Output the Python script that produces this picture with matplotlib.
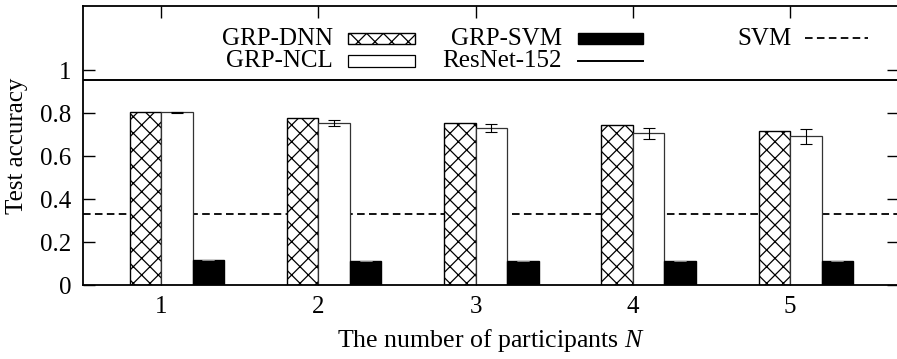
import matplotlib
matplotlib.use("Agg")
import matplotlib.pyplot as plt
import numpy as np
from matplotlib.patches import Rectangle
from matplotlib.lines import Line2D

plt.rcParams['font.family'] = ['Liberation Serif', 'DejaVu Serif']
plt.rcParams['mathtext.fontset'] = 'custom'
plt.rcParams['mathtext.it'] = 'Liberation Serif:italic'
plt.rcParams['mathtext.rm'] = 'Liberation Serif'
plt.rcParams['hatch.linewidth'] = 0.9

participants = [1, 2, 3, 4, 5]
grp_dnn = [0.805, 0.777, 0.753, 0.744, 0.716]
grp_ncl = [0.805, 0.755, 0.733, 0.707, 0.693]
grp_ncl_err = [0.002, 0.012, 0.018, 0.025, 0.034]
grp_svm = [0.117, 0.114, 0.113, 0.113, 0.113]
grp_svm_err = [0.001, 0.001, 0.001, 0.001, 0.001]
resnet152 = 0.953
svm = 0.332
yticks = [0, 0.2, 0.4, 0.6, 0.8, 1]
ytick_labels = ['0', '0.2', '0.4', '0.6', '0.8', '1']

W, H = 897, 359
fig = plt.figure(figsize=(W / 100, H / 100), dpi=100)
ax = fig.add_axes([82.5 / W, (H - 285.3) / H, (899 - 82.5) / W, 279.5 / H])

x = np.array(participants, dtype=float)
bw = 0.2
ax.bar(x - 0.1, grp_dnn, bw, facecolor='white', edgecolor='black', hatch='xx', linewidth=1.0, zorder=2)
ax.bar(x + 0.1, grp_ncl, bw, facecolor='white', edgecolor='#333333', linewidth=0.9, zorder=2)
ax.errorbar(x + 0.1, grp_ncl, yerr=grp_ncl_err, fmt='none', ecolor='black', elinewidth=0.8, capsize=4.3, capthick=0.8, zorder=3)
ax.bar(x + 0.3, grp_svm, bw, facecolor='black', edgecolor='black', linewidth=1.0, zorder=2)
ax.errorbar(x + 0.3, grp_svm, yerr=grp_svm_err, fmt='none', ecolor='#888888', elinewidth=0.6, capsize=4.3, capthick=0.6, zorder=3)
ax.axhline(resnet152, color='black', linewidth=1.4, zorder=1)
ax.axhline(svm, color='black', linewidth=1.3, linestyle=(0, (4.2, 2.4)), zorder=1)

ax.set_xlim(0.5, 0.5 + (899 - 82.5) / 157.25)
ax.set_ylim(0, 1.3)
ax.set_xticks(participants)
ax.set_xticklabels([str(p) for p in participants])
ax.set_yticks(yticks)
ax.set_yticklabels(ytick_labels)
ax.tick_params(direction='in', length=8.7, width=1.0, top=True, right=True, labelsize=18, pad=8, colors='black')
for s in ax.spines.values():
    s.set_linewidth(1.3)
ax.set_xlabel('The number of participants $N$', fontsize=18.6, labelpad=6)
ax.set_ylabel('Test accuracy', fontsize=18)
ax.yaxis.set_label_coords(-54.5 / 816.5, 0.5)

def P(px, py):
    return (px / W, 1 - py / H)

fs = 18
# legend (gnuplot style, label right-aligned to the left of the sample)
fig.text(*P(333, 45), 'GRP-DNN', ha='right', va='baseline', fontsize=fs)
fig.text(*P(333, 66.7), 'GRP-NCL', ha='right', va='baseline', fontsize=fs)
fig.text(*P(562, 45), 'GRP-SVM', ha='right', va='baseline', fontsize=fs)
fig.text(*P(562, 66.7), 'ResNet-152', ha='right', va='baseline', fontsize=fs)
fig.text(*P(792, 45), 'SVM', ha='right', va='baseline', fontsize=fs)

def rect(x0, y0, x1, y1, **kw):
    fig.add_artist(Rectangle(P(x0, y1), (x1 - x0) / W, (y1 - y0) / H, transform=fig.transFigure, **kw))

rect(348, 33, 415, 44.3, facecolor='white', edgecolor='black', hatch='xx', linewidth=1.0)
rect(348, 55, 415, 66.5, facecolor='white', edgecolor='black', linewidth=0.9)
rect(578, 33, 643, 44.3, facecolor='black', edgecolor='black', linewidth=1.0)
fig.add_artist(Line2D([578 / W, 643 / W], [1 - 61 / H, 1 - 61 / H], color='black', linewidth=1.4, transform=fig.transFigure))
fig.add_artist(Line2D([805 / W, 868 / W], [1 - 38 / H, 1 - 38 / H], color='black', linewidth=1.3, linestyle=(0, (4.2, 2.4)), transform=fig.transFigure))

fig.savefig('out.png', dpi=100)
